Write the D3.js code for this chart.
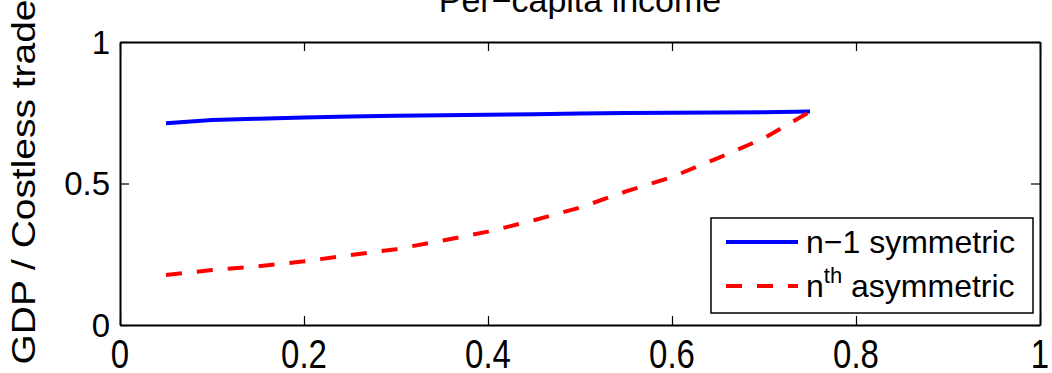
<!DOCTYPE html>
<html>
<head>
<meta charset="utf-8">
<script src="https://cdn.jsdelivr.net/npm/d3@7"></script>
<style>
  html, body { margin: 0; padding: 0; background: #fff; }
  svg { display: block; font-family: "Liberation Sans", Arial, Helvetica, sans-serif; }
</style>
</head>
<body>
<svg id="chart" width="1052" height="373"></svg>
<script>
// Share of the traded variable (x) and per-capita GDP relative to costless trade
const shares = [0.05, 0.10, 0.15, 0.20, 0.25, 0.30, 0.35, 0.40, 0.45, 0.50, 0.55, 0.60, 0.65, 0.70, 0.75];
const symmetric = [0.713, 0.724, 0.729, 0.733, 0.737, 0.739, 0.741, 0.743, 0.745, 0.747, 0.749, 0.750, 0.751, 0.752, 0.754];
const asymmetric = [0.177, 0.194, 0.207, 0.225, 0.247, 0.268, 0.298, 0.330, 0.370, 0.415, 0.472, 0.523, 0.590, 0.660, 0.754];
const xTicks = [0, 0.2, 0.4, 0.6, 0.8, 1];
const yTicks = [0, 0.5, 1];
const titleText = "Per\u2212capita income";
const yLabelText = "GDP / Costless trade";

const svg = d3.select("#chart");
const plotLeft = 120, plotRight = 1040, plotTop = 42, plotBottom = 325;
const x = d3.scaleLinear().domain([0, 1]).range([plotLeft, plotRight]);
const y = d3.scaleLinear().domain([0, 1]).range([plotBottom, plotTop]);
const tickLen = 9;
const fontSize = 33;

// Data lines
const line = (vals) => d3.line()
  .x((d, i) => x(shares[i]))
  .y(d => y(d))(vals);

svg.append("path")
  .attr("d", line(symmetric))
  .attr("fill", "none")
  .attr("stroke", "#0000ff")
  .attr("stroke-width", 4);

svg.append("path")
  .attr("d", line(asymmetric))
  .attr("fill", "none")
  .attr("stroke", "#ff0000")
  .attr("stroke-width", 4)
  .attr("stroke-dasharray", "16,15");

// Axes with inward ticks on all four sides, labels drawn separately
const axisGroup = (axis, tx, ty) => {
  const g = svg.append("g").attr("transform", `translate(${tx},${ty})`).call(axis);
  g.select(".domain").attr("stroke", "#000").attr("stroke-width", 2);
  g.selectAll(".tick line").attr("stroke", "#000").attr("stroke-width", 1.2);
  g.selectAll(".tick text").remove();
  return g;
};
axisGroup(d3.axisBottom(x).tickValues(xTicks).tickSizeInner(-tickLen).tickSizeOuter(0), 0, plotBottom);
axisGroup(d3.axisTop(x).tickValues(xTicks).tickSizeInner(-tickLen).tickSizeOuter(0), 0, plotTop);
axisGroup(d3.axisLeft(y).tickValues(yTicks).tickSizeInner(-tickLen).tickSizeOuter(0), plotLeft, 0);
axisGroup(d3.axisRight(y).tickValues(yTicks).tickSizeInner(-tickLen).tickSizeOuter(0), plotRight, 0);

// Tick labels
const fmt = d => String(d);
svg.append("g").selectAll("text")
  .data(xTicks).join("text")
  .attr("transform", d => `translate(${x(d)},368) scale(1,1.22)`)
  .attr("text-anchor", "middle")
  .attr("font-size", fontSize)
  .attr("fill", "#000")
  .text(fmt);

svg.append("g").selectAll("text")
  .data(yTicks).join("text")
  .attr("x", plotLeft - 10)
  .attr("y", d => y(d) + 11.5)
  .attr("text-anchor", "end")
  .attr("font-size", fontSize)
  .attr("fill", "#000")
  .text(fmt);

// Title (partly above the visible area)
svg.append("text")
  .attr("x", (plotLeft + plotRight) / 2)
  .attr("y", 12)
  .attr("text-anchor", "middle")
  .attr("font-size", 34)
  .attr("fill", "#000")
  .text(titleText);

// Y-axis label
svg.append("text")
  .attr("transform", `translate(35,182) rotate(-90) scale(1.18,1)`)
  .attr("text-anchor", "middle")
  .attr("font-size", fontSize)
  .attr("fill", "#000")
  .text(yLabelText);

// Legend
const lg = svg.append("g");
lg.append("rect")
  .attr("x", 711).attr("y", 218)
  .attr("width", 322).attr("height", 95)
  .attr("fill", "#fff")
  .attr("stroke", "#000")
  .attr("stroke-width", 1.5);

lg.append("line")
  .attr("x1", 726).attr("x2", 798)
  .attr("y1", 242).attr("y2", 242)
  .attr("stroke", "#0000ff").attr("stroke-width", 4);
lg.append("line")
  .attr("x1", 726).attr("x2", 798)
  .attr("y1", 286).attr("y2", 286)
  .attr("stroke", "#ff0000").attr("stroke-width", 4)
  .attr("stroke-dasharray", "16,15");

lg.append("text")
  .attr("x", 806).attr("y", 253)
  .attr("font-size", 32)
  .attr("fill", "#000")
  .text("n\u22121 symmetric");

const t2 = lg.append("text")
  .attr("x", 806).attr("y", 297)
  .attr("font-size", 32)
  .attr("fill", "#000");
t2.append("tspan").text("n");
t2.append("tspan").attr("font-size", 22).attr("dy", -14).text("th");
t2.append("tspan").attr("dy", 14).text(" asymmetric");
</script>
</body>
</html>
